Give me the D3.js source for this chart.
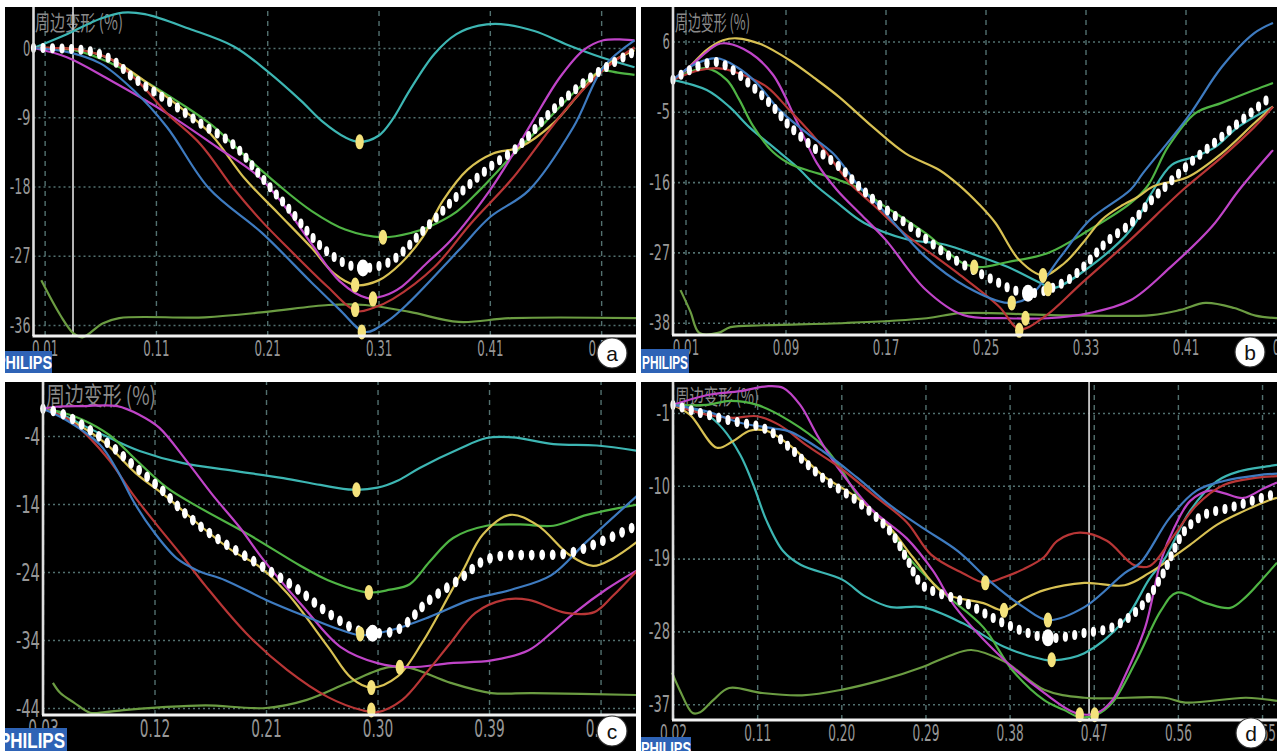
<!DOCTYPE html>
<html>
<head>
<meta charset="utf-8">
<script src="https://cdnjs.cloudflare.com/ajax/libs/d3/7.8.5/d3.min.js"></script>
<style>
  body { margin: 0; background: #fff; }
  svg { display: block; }
  .tick text { font-family: "DejaVu Sans Condensed", "Liberation Sans Narrow", "DejaVu Sans", sans-serif; }
</style>
</head>
<body>
<svg id="chart" width="1277" height="751"></svg>
<script>
// ---- data: [time (s), strain (%)] ----
const aXTicks = [0.01, 0.11, 0.21, 0.31, 0.41, 0.51];
const aYTicks = [0, -9, -18, -27, -36];
const aTeal = [[0,0],[0.03,1.8],[0.06,3.8],[0.08,4.6],[0.1,4.4],[0.14,2.5],[0.18,0.2],[0.21,-3],[0.24,-6.8],[0.26,-9.6],[0.28,-11.6],[0.293,-12.2],[0.31,-11.4],[0.322,-9.4],[0.338,-5.5],[0.36,-0.8],[0.38,1.8],[0.4,2.9],[0.42,3.1],[0.45,2.2],[0.48,0.4],[0.51,-1.2],[0.54,-2.5]];
const aGreen = [[0,0],[0.04,-0.4],[0.07,-2],[0.1,-4.3],[0.13,-7],[0.16,-10],[0.19,-14],[0.22,-17.8],[0.25,-21.2],[0.28,-23.6],[0.314,-24.6],[0.34,-24],[0.356,-23.2],[0.38,-21.3],[0.4,-18.6],[0.43,-14],[0.46,-9.6],[0.49,-5.2],[0.51,-3],[0.525,-3.2],[0.54,-3.5]];
const aYellow = [[0,0],[0.04,-0.2],[0.07,-1.5],[0.1,-4.3],[0.13,-7.5],[0.16,-11.3],[0.19,-17],[0.22,-21.5],[0.25,-26],[0.27,-29.3],[0.289,-30.8],[0.31,-30.2],[0.33,-28],[0.35,-24.5],[0.368,-19.8],[0.39,-15.8],[0.413,-13.7],[0.437,-12.9],[0.467,-9.8],[0.49,-6],[0.512,-2.5],[0.54,-0.3]];
const aMagenta = [[0,0],[0.03,-1.2],[0.069,-4.2],[0.12,-8.5],[0.165,-12.9],[0.203,-16.8],[0.228,-21],[0.25,-25.5],[0.275,-30.3],[0.3,-32.5],[0.315,-32.2],[0.331,-31],[0.353,-28],[0.375,-25],[0.41,-18.5],[0.43,-14],[0.449,-9.4],[0.473,-3.8],[0.494,-0.3],[0.512,1],[0.53,1.1],[0.54,1]];
const aRed = [[0,0],[0.04,-0.2],[0.07,-1.5],[0.095,-4.5],[0.12,-8.5],[0.15,-12.5],[0.18,-18.3],[0.205,-22.5],[0.228,-25.9],[0.264,-31],[0.29,-34.2],[0.305,-33.8],[0.323,-32.6],[0.36,-28.5],[0.393,-22.8],[0.43,-17],[0.467,-10],[0.49,-6],[0.515,-2.5],[0.54,0.1]];
const aBlue = [[0,0],[0.03,-0.5],[0.06,-2],[0.09,-5.5],[0.12,-10.3],[0.158,-18.3],[0.205,-24],[0.25,-30.5],[0.275,-34],[0.298,-36.9],[0.318,-35.5],[0.338,-33],[0.382,-26.3],[0.41,-22],[0.445,-18.5],[0.485,-10.3],[0.512,-2.5],[0.54,1]];
const aAvg = [[0,0],[0.03,-0.1],[0.05,-0.4],[0.07,-1.5],[0.09,-3.9],[0.12,-6.8],[0.15,-9.8],[0.18,-12.6],[0.206,-17],[0.23,-21],[0.26,-26],[0.28,-28],[0.296,-28.6],[0.32,-27.8],[0.353,-23.3],[0.386,-18.5],[0.41,-15.5],[0.434,-13],[0.467,-8],[0.497,-4.2],[0.52,-2],[0.54,-0.5]];
const aTrace = [[0.007,-30.2],[0.024,-34.7],[0.036,-37.1],[0.044,-37.6],[0.062,-35.8],[0.077,-35.1],[0.154,-35],[0.209,-34.3],[0.265,-33.4],[0.298,-33.4],[0.338,-34.3],[0.382,-35.6],[0.43,-35.1],[0.544,-35.1]];
const aMarkers = [[0.293,-12.2],[0.314,-24.6],[0.289,-30.8],[0.305,-32.6],[0.289,-34.0],[0.295,-36.9]];
const aPeak = [0.296, -28.6];

const bXTicks = [0.01, 0.09, 0.17, 0.25, 0.33, 0.41, 0.49];
const bYTicks = [6, -5, -16, -27, -38];
const bTeal = [[0,0],[0.027,-1.6],[0.045,-4.2],[0.061,-7.4],[0.08,-10.5],[0.099,-13.6],[0.114,-16.5],[0.13,-19],[0.153,-22.4],[0.186,-24.9],[0.218,-25.8],[0.242,-27.4],[0.268,-29.3],[0.294,-31.8],[0.304,-32.6],[0.333,-29.3],[0.366,-23.5],[0.382,-18],[0.399,-13.3],[0.418,-12],[0.434,-10.5],[0.452,-7.4],[0.48,-4.2]];
const bGreen = [[0,0],[0.013,1.2],[0.027,1.8],[0.043,0],[0.053,-3.1],[0.064,-7.2],[0.08,-11.3],[0.095,-13.3],[0.107,-14.1],[0.133,-15.7],[0.149,-17],[0.165,-19.2],[0.202,-24],[0.232,-28.7],[0.245,-29.3],[0.268,-28.5],[0.3,-27.1],[0.333,-23.5],[0.366,-19.3],[0.38,-16.5],[0.396,-10.5],[0.418,-5.2],[0.439,-3.6],[0.465,-1.6],[0.48,-0.5]];
const bYellow = [[0,0],[0.013,2],[0.027,4.7],[0.04,6.2],[0.051,6.5],[0.07,5.6],[0.093,3.1],[0.113,0.3],[0.133,-2.7],[0.16,-7.4],[0.186,-11.5],[0.213,-14.1],[0.229,-16.5],[0.245,-19.5],[0.258,-22.4],[0.277,-28.2],[0.296,-30.6],[0.313,-28.7],[0.328,-25.5],[0.343,-21.9],[0.358,-19.8],[0.372,-18.3],[0.384,-16.7],[0.412,-15.2],[0.439,-11.5],[0.465,-6.8],[0.48,-4.2]];
const bMagenta = [[0,0],[0.013,2],[0.035,5.5],[0.043,5.7],[0.062,4.2],[0.08,0.8],[0.099,-6.5],[0.115,-13],[0.131,-17.2],[0.15,-21],[0.17,-25],[0.202,-32.8],[0.232,-36.8],[0.268,-37.3],[0.3,-37.3],[0.333,-36.5],[0.366,-34.5],[0.398,-29.3],[0.431,-23],[0.453,-17.2],[0.48,-11]];
const bRed = [[0,0],[0.021,1.5],[0.037,1.8],[0.053,1],[0.075,-1.1],[0.093,-4.7],[0.115,-9.4],[0.133,-14.1],[0.143,-16.5],[0.16,-19.5],[0.185,-24],[0.228,-30.3],[0.261,-35.5],[0.277,-39],[0.297,-37.1],[0.327,-31.8],[0.366,-25],[0.408,-17.2],[0.439,-12.1],[0.465,-7.4],[0.48,-4.2]];
const bBlue = [[0,0],[0.016,2.3],[0.035,3.4],[0.051,2],[0.067,-0.5],[0.085,-4.7],[0.107,-8.3],[0.128,-11.5],[0.149,-16.7],[0.165,-19.8],[0.202,-27.7],[0.235,-32.4],[0.268,-34.9],[0.284,-34.1],[0.31,-27.7],[0.333,-22],[0.366,-17.2],[0.376,-14.6],[0.412,-5.8],[0.439,2],[0.465,7.3],[0.48,8.9]];
const bAvg = [[0,0],[0.013,1.5],[0.027,2.6],[0.035,2.8],[0.048,1.5],[0.061,-0.6],[0.08,-4.2],[0.093,-7.2],[0.112,-10.5],[0.133,-13.6],[0.149,-16.7],[0.165,-19.5],[0.186,-22.4],[0.222,-27.7],[0.251,-30.8],[0.284,-33.4],[0.316,-31.3],[0.349,-25],[0.366,-22.5],[0.382,-19],[0.395,-16.5],[0.412,-13.3],[0.439,-8.9],[0.465,-4.7],[0.48,-2.4]];
const bTrace = [[0.006,-32.9],[0.014,-36.3],[0.021,-39.6],[0.036,-39.6],[0.046,-38.7],[0.072,-38.4],[0.138,-38.05],[0.203,-37.3],[0.23,-36.5],[0.302,-36.8],[0.383,-36.8],[0.406,-36],[0.426,-34.9],[0.449,-35.7],[0.466,-36.9],[0.485,-37.3]];
const bMarkers = [[0.241,-29.3],[0.296,-30.6],[0.3,-32.7],[0.271,-34.9],[0.282,-37.3],[0.277,-39.2]];
const bPeak = [0.284, -33.4];

const cXTicks = [0.03, 0.12, 0.21, 0.30, 0.39, 0.48];
const cYTicks = [-4, -14, -24, -34, -44];
const cTeal = [[0.03,0],[0.045,-0.8],[0.062,-2.4],[0.084,-4.3],[0.108,-6.2],[0.143,-8],[0.183,-9.1],[0.224,-10.2],[0.254,-11.2],[0.28,-11.9],[0.3,-11.6],[0.317,-10.5],[0.334,-8.7],[0.367,-5.8],[0.388,-4.3],[0.409,-4.2],[0.442,-5.2],[0.477,-5.4],[0.51,-6.2]];
const cGreen = [[0.03,0],[0.045,-0.5],[0.062,-1.6],[0.084,-3.9],[0.105,-7.5],[0.13,-11.6],[0.157,-14.6],[0.197,-18.6],[0.237,-23],[0.26,-25.2],[0.293,-27],[0.31,-26.6],[0.326,-25.8],[0.342,-22.5],[0.361,-19],[0.388,-17.2],[0.415,-17],[0.442,-17.2],[0.469,-15.6],[0.51,-14.1]];
const cYellow = [[0.03,0],[0.05,-1.5],[0.08,-5],[0.105,-9.5],[0.13,-13],[0.157,-17.2],[0.183,-20.9],[0.203,-23],[0.227,-27.1],[0.26,-35],[0.279,-39.6],[0.295,-41],[0.316,-39.4],[0.336,-34.4],[0.359,-27],[0.37,-23.4],[0.385,-18.5],[0.407,-15.6],[0.429,-17.1],[0.455,-21.5],[0.474,-23.1],[0.49,-22],[0.51,-19.5]];
const cMagenta = [[0.03,0],[0.04,0.3],[0.062,0.4],[0.09,0.4],[0.108,-0.9],[0.124,-2.8],[0.146,-7.7],[0.167,-12.7],[0.189,-17.5],[0.207,-22],[0.24,-29.1],[0.27,-35],[0.3,-37.4],[0.326,-38],[0.359,-37.4],[0.392,-37],[0.422,-35.5],[0.44,-33],[0.459,-30],[0.485,-26.5],[0.51,-23.7]];
const cRed = [[0.03,0],[0.05,-1.5],[0.065,-3.8],[0.084,-7.7],[0.103,-12.7],[0.122,-17.1],[0.143,-21.8],[0.161,-26],[0.194,-33],[0.227,-38.4],[0.26,-42.4],[0.287,-44.3],[0.3,-44.6],[0.32,-42.8],[0.339,-38.9],[0.359,-34.4],[0.379,-30],[0.402,-28.1],[0.422,-28.1],[0.452,-30],[0.475,-29.9],[0.49,-27.5],[0.51,-23.7]];
const cBlue = [[0.03,0],[0.05,-1.8],[0.076,-5.3],[0.09,-9.1],[0.103,-13.6],[0.119,-18],[0.138,-22],[0.155,-23.8],[0.177,-25.2],[0.21,-28.1],[0.243,-30.6],[0.27,-32.5],[0.287,-33.3],[0.312,-32.5],[0.342,-30.6],[0.375,-28.1],[0.408,-26.6],[0.44,-24.5],[0.469,-19.5],[0.51,-12.7]];
const cAvg = [[0.03,0],[0.045,-0.7],[0.062,-2.4],[0.084,-5.3],[0.103,-8.3],[0.124,-11.6],[0.146,-15.6],[0.17,-19],[0.2,-22.4],[0.233,-26.2],[0.26,-30],[0.283,-32.5],[0.296,-33],[0.316,-32.5],[0.342,-28.1],[0.369,-24.7],[0.385,-22.4],[0.401,-21.6],[0.429,-21.5],[0.455,-21.2],[0.482,-19.4],[0.51,-17.1]];
const cTrace = [[0.038,-40.3],[0.044,-41.8],[0.055,-43.2],[0.068,-44.7],[0.08,-44.6],[0.095,-44.3],[0.124,-43.9],[0.161,-43.6],[0.21,-44],[0.243,-42.8],[0.276,-40.3],[0.309,-38],[0.326,-38.1],[0.359,-40.3],[0.392,-41.8],[0.425,-41.8],[0.511,-42.1]];
const cMarkers = [[0.283,-11.9],[0.293,-27],[0.286,-33.1],[0.318,-38],[0.295,-41],[0.295,-44.3]];
const cPeak = [0.296, -33];

const dXTicks = [0.02, 0.11, 0.20, 0.29, 0.38, 0.47, 0.56, 0.65];
const dYTicks = [-1, -10, -19, -28, -37];
const dTeal = [[0.02,0],[0.056,-1.2],[0.073,-2.9],[0.092,-6.2],[0.106,-9.9],[0.12,-14.3],[0.138,-18.1],[0.157,-19.8],[0.201,-21.6],[0.226,-23.7],[0.253,-25],[0.287,-25],[0.33,-27],[0.374,-29.9],[0.417,-31.5],[0.425,-31.6],[0.46,-30.7],[0.503,-26.6],[0.529,-21.6],[0.546,-19],[0.573,-13.1],[0.602,-9.4],[0.626,-8.2],[0.655,-7.6],[0.666,-7.4]];
const dGreen = [[0.02,0],[0.056,0],[0.081,0.5],[0.11,0],[0.145,-2],[0.18,-5],[0.199,-7.8],[0.217,-11.1],[0.252,-15.2],[0.27,-18.6],[0.309,-23.2],[0.352,-27.5],[0.383,-32.8],[0.417,-36.5],[0.438,-37.7],[0.455,-38.6],[0.473,-38.3],[0.49,-36.8],[0.516,-31.5],[0.542,-25.4],[0.559,-23.2],[0.59,-24.5],[0.616,-25.1],[0.633,-23.7],[0.65,-21.6],[0.666,-19.5]];
const dYellow = [[0.02,0],[0.038,-1.2],[0.067,-5.3],[0.084,-4.5],[0.102,-3.2],[0.12,-3.2],[0.145,-5],[0.18,-8.7],[0.217,-11.5],[0.252,-15.2],[0.277,-18.9],[0.309,-23.2],[0.352,-24.5],[0.374,-25.4],[0.395,-24],[0.417,-22.9],[0.46,-22],[0.503,-22.3],[0.529,-20.8],[0.55,-19.2],[0.573,-17.3],[0.602,-14.8],[0.631,-13.1],[0.655,-11.9],[0.666,-11.5]];
const dMagenta = [[0.02,0],[0.056,1.2],[0.092,1.7],[0.12,2.3],[0.138,2.1],[0.156,0],[0.174,-3.7],[0.191,-6.9],[0.213,-10.3],[0.234,-13.1],[0.27,-16.5],[0.298,-20.5],[0.322,-25],[0.374,-31.5],[0.417,-35.6],[0.451,-38.1],[0.473,-38.1],[0.49,-36.5],[0.503,-33.6],[0.525,-27.5],[0.542,-19.2],[0.556,-15.2],[0.573,-11.9],[0.594,-10.6],[0.609,-10.9],[0.63,-11.5],[0.652,-10.3],[0.666,-9.6]];
const dRed = [[0.02,0],[0.056,-1.2],[0.084,-1.6],[0.11,-1.4],[0.134,-2.5],[0.163,-5],[0.199,-7.8],[0.234,-11.1],[0.27,-14.5],[0.296,-18.5],[0.33,-20.8],[0.354,-22],[0.374,-21.3],[0.395,-20.3],[0.417,-18.8],[0.431,-16.8],[0.455,-15.8],[0.484,-16.8],[0.513,-19.8],[0.53,-19.9],[0.556,-16.1],[0.58,-12.4],[0.609,-9.9],[0.645,-9],[0.666,-8.8]];
const dBlue = [[0.02,0],[0.056,-0.8],[0.092,-2.2],[0.127,-2.9],[0.145,-3.3],[0.18,-5.7],[0.217,-9],[0.252,-12.4],[0.287,-15.2],[0.325,-18.1],[0.361,-22],[0.395,-25],[0.421,-26.6],[0.46,-25],[0.503,-20.8],[0.52,-19.5],[0.551,-14],[0.58,-10.6],[0.609,-9.4],[0.645,-8.7],[0.666,-8.5]];
const dAvg = [[0.02,0],[0.056,-1.2],[0.092,-2.2],[0.11,-2.6],[0.127,-3.5],[0.145,-5.3],[0.18,-9],[0.217,-11.9],[0.252,-15.6],[0.27,-19],[0.287,-22.3],[0.33,-24.3],[0.374,-27],[0.421,-28.8],[0.46,-28.2],[0.49,-27.5],[0.52,-25],[0.542,-21.3],[0.567,-15.6],[0.588,-13.6],[0.616,-12.7],[0.655,-11.3],[0.666,-11]];
const dTrace = [[0.019,-33.1],[0.027,-35.2],[0.041,-38.1],[0.049,-38],[0.063,-36.5],[0.08,-35],[0.114,-35.6],[0.158,-35.9],[0.201,-35.2],[0.244,-34],[0.287,-32.4],[0.316,-31],[0.339,-30.3],[0.374,-31.7],[0.417,-35.2],[0.46,-36.2],[0.546,-36.2],[0.568,-36.8],[0.633,-36.2],[0.666,-36.6]];
const dMarkers = [[0.354,-22],[0.374,-25.4],[0.421,-26.6],[0.425,-31.5],[0.455,-38.3],[0.471,-38.3]];
const dPeak = [0.421, -28.8];

const TITLE = "周边变形 (%)";

// ---- look ----
const COLORS = { teal: "#3db6b3", green: "#4fb444", yellow: "#d8c153", magenta: "#c044c8", red: "#b83636", blue: "#3e7bc0" };
const TRACE = "#6b9c42";
const GRID = "#52706f";
const LABEL = "#979797";
const MARK = "#f4e27c";

const panels = [
    { key: "a", box: [5, 7, 636, 373], axisX: 33.5, axisY: 336, t0: 0, pxT: 1113, yRef: [0, 48, -36, 325],
      xTicks: aXTicks, yTicks: aYTicks, cursor: 0.0355,
      curves: [["teal", aTeal], ["green", aGreen], ["yellow", aYellow], ["magenta", aMagenta], ["red", aRed], ["blue", aBlue]],
      avg: aAvg, trace: aTrace, markers: aMarkers, peak: aPeak,
      fs: 22, cw: 7.4, pad: 4, title: [35, 30, 21, 88], logo: [5, 351, 47, 22, -4, 369, 56, 19], badge: [612, 353], dot: [2.6, 5, 9.5] },
    { key: "b", box: [641, 7, 1277, 373], axisX: 673, axisY: 335, t0: 0, pxT: 1250, yRef: [6, 41.5, -38, 322.7],
      xTicks: bXTicks, yTicks: bYTicks, cursor: null,
      curves: [["teal", bTeal], ["green", bGreen], ["yellow", bYellow], ["magenta", bMagenta], ["red", bRed], ["blue", bBlue]],
      avg: bAvg, trace: bTrace, markers: bMarkers, peak: bPeak,
      fs: 22, cw: 7.4, pad: 4, title: [675, 30, 21, 75], logo: [641, 349, 48, 24, 642, 369, 46, 19], badge: [1250, 352], dot: [2.6, 5, 9.5] },
    { key: "c", box: [5, 382, 636, 751], axisX: 43, axisY: 715, t0: 0.03, pxT: 1239, yRef: [-4, 436, -44, 708],
      xTicks: cXTicks, yTicks: cYTicks, cursor: null,
      curves: [["teal", cTeal], ["green", cGreen], ["yellow", cYellow], ["magenta", cMagenta], ["red", cRed], ["blue", cBlue]],
      avg: cAvg, trace: cTrace, markers: cMarkers, peak: cPeak,
      fs: 25, cw: 8.6, pad: 4, title: [46, 405, 25, 110], logo: [5, 728, 62, 23, -1, 748, 66, 22], badge: [612, 731], dot: [2.9, 5.3, 10.5] },
    { key: "d", box: [641, 382, 1277, 751], axisX: 673, axisY: 720, t0: 0.02, pxT: 935, yRef: [-1, 413, -37, 704.2],
      xTicks: dXTicks, yTicks: dYTicks, cursor: 0.465,
      curves: [["teal", dTeal], ["green", dGreen], ["yellow", dYellow], ["magenta", dMagenta], ["red", dRed], ["blue", dBlue]],
      avg: dAvg, trace: dTrace, markers: dMarkers, peak: dPeak,
      fs: 23, cw: 7.6, pad: 5, title: [675, 404, 21, 84], logo: [641, 737, 50, 16, 641, 755, 50, 18], badge: [1251, 733], dot: [2.6, 5, 9.5] }
];

const svg = d3.select("#chart");
const defs = svg.append("defs");

// narrow tick text: fixed width per character
const textWidth = (s, cw) => s.split("").reduce((w, ch) => w + (ch === "." ? cw * 0.55 : ch === "-" ? cw * 0.8 : cw), 0);

panels.forEach(p => {
    const [bx0, by0, bx1, by1] = p.box;

    defs.append("clipPath").attr("id", "clip-" + p.key)
        .append("rect").attr("x", bx0).attr("y", by0).attr("width", bx1 - bx0).attr("height", by1 - by0);

    const g = svg.append("g").attr("clip-path", "url(#clip-" + p.key + ")");
    g.append("rect").attr("x", bx0).attr("y", by0).attr("width", bx1 - bx0).attr("height", by1 - by0).attr("fill", "#000");

    const x = d3.scaleLinear().domain([p.t0, p.t0 + 0.1]).range([p.axisX, p.axisX + p.pxT * 0.1]);
    const y = d3.scaleLinear().domain([p.yRef[0], p.yRef[2]]).range([p.yRef[1], p.yRef[3]]);

    // grid
    g.append("g")
        .attr("transform", "translate(" + p.axisX + ",0)")
        .call(d3.axisLeft(y).tickValues(p.yTicks).tickSize(-(bx1 - p.axisX)).tickFormat(""))
        .call(a => a.select(".domain").remove())
        .selectAll("line").attr("stroke", GRID).attr("stroke-width", 1.6).attr("stroke-dasharray", "2 3");

    g.append("g")
        .attr("transform", "translate(0," + p.axisY + ")")
        .call(d3.axisBottom(x).tickValues(p.xTicks).tickSize(-(p.axisY - by0)).tickFormat(""))
        .call(a => a.select(".domain").remove())
        .selectAll("line").attr("stroke", GRID).attr("stroke-width", 1.4).attr("stroke-dasharray", "5 5");

    // panel title
    g.append("text")
        .attr("x", p.title[0]).attr("y", p.title[1])
        .attr("font-family", "'Noto Sans CJK SC', sans-serif")
        .attr("font-size", p.title[2])
        .attr("textLength", p.title[3]).attr("lengthAdjust", "spacingAndGlyphs")
        .attr("fill", "#8a8a8a")
        .text(TITLE);

    if (p.cursor !== null) {
        g.append("line")
            .attr("x1", x(p.cursor)).attr("x2", x(p.cursor))
            .attr("y1", by0).attr("y2", p.axisY)
            .attr("stroke", "#c9c9c9").attr("stroke-width", 1.8);
    }

    const line = d3.line()
        .x(d => x(d[0]))
        .y(d => y(d[1]))
        .curve(d3.curveCatmullRom.alpha(0.5));

    g.append("path").attr("d", line(p.trace))
        .attr("fill", "none").attr("stroke", TRACE).attr("stroke-width", 2.2);

    g.selectAll(".curve")
        .data(p.curves)
        .join("path")
        .attr("class", "curve")
        .attr("d", d => line(d[1]))
        .attr("fill", "none")
        .attr("stroke", d => COLORS[d[0]])
        .attr("stroke-width", 2.2);

    // average curve drawn as upright white dots along the path
    const avgPath = g.append("path").attr("d", line(p.avg)).attr("fill", "none").attr("stroke", "none");
    const len = avgPath.node().getTotalLength();
    const pts = d3.range(0, len, p.dot[2]).map(l => avgPath.node().getPointAtLength(l));
    g.selectAll(".avgdot")
        .data(pts)
        .join("ellipse")
        .attr("class", "avgdot")
        .attr("cx", d => d.x).attr("cy", d => d.y)
        .attr("rx", p.dot[0]).attr("ry", p.dot[1])
        .attr("fill", "#fff");

    g.selectAll(".marker")
        .data(p.markers)
        .join("ellipse")
        .attr("class", "marker")
        .attr("cx", d => x(d[0])).attr("cy", d => y(d[1]))
        .attr("rx", 4.2).attr("ry", 7.5)
        .attr("fill", MARK);

    g.append("ellipse")
        .attr("cx", x(p.peak[0])).attr("cy", y(p.peak[1]))
        .attr("rx", 6).attr("ry", 8.5)
        .attr("fill", "#fff");

    // axis lines
    g.append("line")
        .attr("x1", p.axisX).attr("x2", p.axisX).attr("y1", by0).attr("y2", p.axisY)
        .attr("stroke", "#dedede").attr("stroke-width", 2.6);
    g.append("line")
        .attr("x1", p.axisX - 1).attr("x2", bx1).attr("y1", p.axisY).attr("y2", p.axisY)
        .attr("stroke", "#f2f2f2").attr("stroke-width", 3);

    // tick labels
    const yAxis = g.append("g")
        .attr("transform", "translate(" + (p.axisX - 3) + ",0)")
        .call(d3.axisLeft(y).tickValues(p.yTicks).tickSize(0).tickPadding(0).tickFormat(d => String(d)));
    yAxis.select(".domain").remove();
    yAxis.selectAll("text")
        .attr("fill", LABEL).attr("font-size", p.fs)
        .attr("textLength", d => textWidth(String(d), p.cw)).attr("lengthAdjust", "spacingAndGlyphs");

    const xAxis = g.append("g")
        .attr("transform", "translate(0," + p.axisY + ")")
        .call(d3.axisBottom(x).tickValues(p.xTicks).tickSize(0).tickPadding(p.pad).tickFormat(d3.format(".2f")));
    xAxis.select(".domain").remove();
    xAxis.selectAll("text")
        .attr("fill", LABEL).attr("font-size", p.fs)
        .attr("textLength", d => textWidth(d3.format(".2f")(d), p.cw)).attr("lengthAdjust", "spacingAndGlyphs");

    // scanner logo
    const [lx, ly, lw, lh, tx, ty, tl, tfs] = p.logo;
    g.append("rect").attr("x", lx).attr("y", ly).attr("width", lw).attr("height", lh).attr("fill", "#2e63b6");
    g.append("text")
        .attr("x", tx).attr("y", ty)
        .attr("font-family", "'Liberation Sans', Arial, sans-serif").attr("font-weight", "bold")
        .attr("font-size", tfs)
        .attr("textLength", tl).attr("lengthAdjust", "spacingAndGlyphs")
        .attr("fill", "#fff")
        .text("PHILIPS");

    // panel letter
    g.append("circle")
        .attr("cx", p.badge[0]).attr("cy", p.badge[1]).attr("r", 15)
        .attr("fill", "#fff").attr("stroke", "#333").attr("stroke-width", 1.2);
    g.append("text")
        .attr("x", p.badge[0]).attr("y", p.badge[1]).attr("dy", "0.36em")
        .attr("text-anchor", "middle")
        .attr("font-family", "'Liberation Sans', Arial, sans-serif")
        .attr("font-size", 21)
        .attr("fill", "#111")
        .text(p.key);
});
</script>
</body>
</html>
